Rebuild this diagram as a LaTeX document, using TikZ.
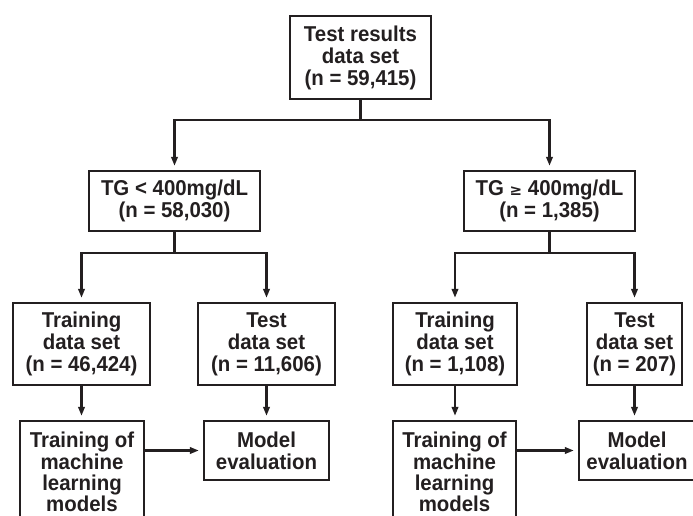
\documentclass[tikz,border=0pt]{standalone}
\usepackage{fontspec}
\setmainfont{Liberation Sans}[FakeStretch=0.95]
\newfontfamily\symfont{DejaVu Sans}
\usetikzlibrary{arrows.meta}
\definecolor{ink}{HTML}{231F20}
\begin{document}
\begin{tikzpicture}[x=1pt,y=-1pt,
  box/.style={draw=ink,line width=2.4pt,rectangle,inner sep=0pt,align=center,
    text=ink,font=\fontsize{21.5}{22}\selectfont\bfseries},
  mlbox/.style={box,font=\fontsize{21.5}{21.3}\selectfont\bfseries},
  conn/.style={draw=ink,line width=2.4pt,line join=miter},
  arr/.style={conn,-{Triangle[length=9pt,width=6.5pt]},shorten >=4pt}]
\useasboundingbox (0,0) rectangle (693,516);
% row 1
\node[box,minimum width=141pt,minimum height=83pt] (top) at (360.5,57.5)
  {Test results\\data set\\(n = 59,415)};
% row 2
\node[box,minimum width=171pt,minimum height=60pt] (tgL) at (174.5,201)
  {TG < 400mg/dL\\(n = 58,030)};
\node[box,minimum width=171pt,minimum height=60pt] (tgR) at (549.5,201)
  {TG {\symfont\fontsize{15}{22}\selectfont ≥} 400mg/dL\\(n = 1,385)};
% row 3
\node[box,minimum width=137pt,minimum height=82pt] (trL) at (81.5,344)
  {Training\\data set\\(n = 46,424)};
\node[box,minimum width=137pt,minimum height=82pt] (teL) at (266.5,344)
  {Test\\data set\\(n = 11,606)};
\node[box,minimum width=124pt,minimum height=82pt] (trR) at (455,344)
  {Training\\data set\\(n = 1,108)};
\node[box,minimum width=95pt,minimum height=82pt] (teR) at (634.5,344)
  {Test\\data set\\(n = 207)};
% row 4
\node[mlbox,minimum width=124pt,minimum height=102pt] (mlL) at (82,472)
  {Training of\\machine\\learning\\models};
\node[box,minimum width=125pt,minimum height=59pt] (mevL) at (266.5,450.5)
  {Model\\evaluation};
\node[mlbox,minimum width=123pt,minimum height=102pt] (mlR) at (454.5,472)
  {Training of\\machine\\learning\\models};
\node[box,minimum width=116pt,minimum height=59pt] (mevR) at (637,450.5)
  {Model\\evaluation};
% junctions
\coordinate (j1) at (360.5,120);
\coordinate (j2) at (174.5,253);
\coordinate (j3) at (549.5,253);
% connectors
\draw[conn] (top.south) -- (j1);
\draw[arr] (j1) -| (tgL.north);
\draw[arr] (j1) -| (tgR.north);
\draw[conn] (tgL.south) -- (j2);
\draw[arr] (j2) -| (trL.north);
\draw[arr] (j2) -| (teL.north);
\draw[conn] (tgR.south) -- (j3);
\draw[arr] (j3) -| (trR.north);
\draw[arr] (j3) -| (teR.north);
\draw[arr] (trL.south) -- (trL.south |- mlL.north);
\draw[arr] (teL.south) -- (mevL.north);
\draw[arr] (trR.south) -- (trR.south |- mlR.north);
\draw[arr] (teR.south) -- (teR.south |- mevR.north);
\draw[arr] (mlL.east |- mevL.west) -- (mevL.west);
\draw[arr] (mlR.east |- mevR.west) -- (mevR.west);
\end{tikzpicture}
\end{document}
